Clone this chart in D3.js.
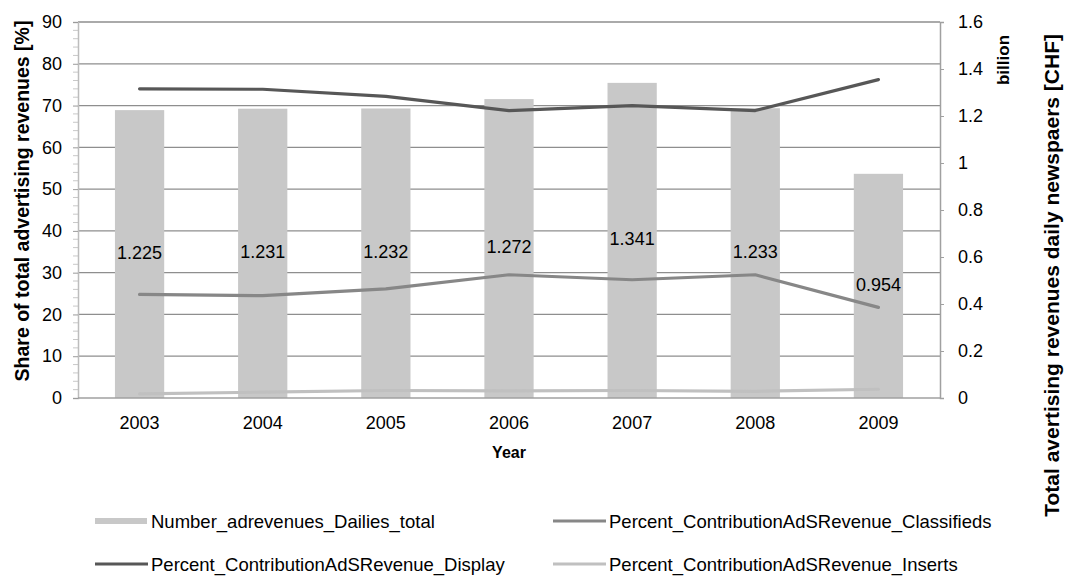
<!DOCTYPE html>
<html>
<head>
<meta charset="utf-8">
<script src="https://cdn.jsdelivr.net/npm/d3@7"></script>
<style>
  body { margin: 0; background: #fff; }
  svg text { font-family: "Liberation Sans", Arial, sans-serif; fill: #000; }
</style>
</head>
<body>
<div id="chart"></div>
<script>
// data
var years = ['2003', '2004', '2005', '2006', '2007', '2008', '2009'];
var revenueTotal = [1.225, 1.231, 1.232, 1.272, 1.341, 1.233, 0.954];
var shareDisplay = [74.0, 73.9, 72.2, 68.8, 70.0, 68.8, 76.2];
var shareClassifieds = [24.8, 24.5, 26.1, 29.5, 28.3, 29.5, 21.7];
var shareInserts = [1.0, 1.4, 1.8, 1.7, 1.8, 1.6, 2.1];
var leftTicks = [0, 10, 20, 30, 40, 50, 60, 70, 80, 90];
var rightTicks = [0, 0.2, 0.4, 0.6, 0.8, 1, 1.2, 1.4, 1.6];

(function () {
  var W = 1065, H = 577;
  var pLeft = 78, pRight = 940, pTop = 22, pBottom = 398;

  var svg = d3.select('#chart').append('svg').attr('width', W).attr('height', H);

  var x = d3.scaleBand().domain(years).range([pLeft, pRight]);
  var yL = d3.scaleLinear().domain([0, 90]).range([pBottom, pTop]);
  var yR = d3.scaleLinear().domain([0, 1.6]).range([pBottom, pTop]);
  var barW = x.bandwidth() * 0.4;

  // gridlines
  svg.append('g')
    .selectAll('line')
    .data(leftTicks.filter(function (d) { return d > 0; }))
    .join('line')
    .attr('x1', pLeft).attr('x2', pRight)
    .attr('y1', function (d) { return yL(d); })
    .attr('y2', function (d) { return yL(d); })
    .attr('stroke', '#8e8e8e').attr('stroke-width', 1.3);

  // minor ticks on left axis
  var minor = d3.range(0, 91, 2).filter(function (d) { return d % 10 != 0; });
  svg.append('g')
    .selectAll('line')
    .data(minor)
    .join('line')
    .attr('x1', pLeft - 5).attr('x2', pLeft)
    .attr('y1', function (d) { return yL(d); })
    .attr('y2', function (d) { return yL(d); })
    .attr('stroke', '#c8c8c8').attr('stroke-width', 1);

  // left axis
  var axL = svg.append('g').attr('transform', 'translate(' + pLeft + ',0)')
    .call(d3.axisLeft(yL).tickValues(leftTicks).tickSize(5).tickPadding(11));
  axL.select('.domain').attr('stroke', '#bdbdbd').attr('stroke-width', 1.5);
  axL.selectAll('.tick line').attr('stroke', '#9a9a9a');
  axL.selectAll('text').style('font-size', '18px').attr('fill', '#000');

  // right axis
  var axR = svg.append('g').attr('transform', 'translate(' + pRight + ',0)')
    .call(d3.axisRight(yR).tickValues(rightTicks).tickFormat(d3.format('')).tickSize(4).tickPadding(14));
  axR.select('.domain').attr('stroke', '#a0a0a0').attr('stroke-width', 1.5);
  axR.selectAll('.tick line').attr('stroke', '#a0a0a0');
  axR.selectAll('text').style('font-size', '18px').attr('fill', '#000');

  // bars
  svg.append('g')
    .selectAll('rect')
    .data(revenueTotal)
    .join('rect')
    .attr('x', function (d, i) { return x(years[i]) + (x.bandwidth() - barW) / 2; })
    .attr('width', barW)
    .attr('y', function (d) { return yR(d); })
    .attr('height', function (d) { return pBottom - yR(d); })
    .attr('fill', '#c8c8c8');

  // bottom axis line
  svg.append('line')
    .attr('x1', pLeft).attr('x2', pRight)
    .attr('y1', pBottom).attr('y2', pBottom)
    .attr('stroke', '#a0a0a0').attr('stroke-width', 1.5);

  // lines
  var line = d3.line()
    .x(function (d, i) { return x(years[i]) + x.bandwidth() / 2; })
    .y(function (d) { return yL(d); });

  var series = [
    { vals: shareInserts, color: '#c0c0c0' },
    { vals: shareClassifieds, color: '#878787' },
    { vals: shareDisplay, color: '#575757' }
  ];
  series.forEach(function (s) {
    svg.append('path')
      .datum(s.vals)
      .attr('d', line)
      .attr('fill', 'none')
      .attr('stroke', s.color)
      .attr('stroke-width', 3.2)
      .attr('stroke-linecap', 'round')
      .attr('stroke-linejoin', 'round');
  });

  // bar labels (middle of the bar)
  svg.append('g')
    .selectAll('text')
    .data(revenueTotal)
    .join('text')
    .attr('x', function (d, i) { return x(years[i]) + x.bandwidth() / 2; })
    .attr('y', function (d) { return yR(d / 2); })
    .attr('text-anchor', 'middle')
    .attr('dominant-baseline', 'middle')
    .style('font-size', '18px')
    .text(function (d) { return d3.format('.3f')(d); });

  // year labels
  svg.append('g')
    .selectAll('text')
    .data(years)
    .join('text')
    .attr('x', function (d) { return x(d) + x.bandwidth() / 2; })
    .attr('y', 429)
    .attr('text-anchor', 'middle')
    .style('font-size', '18px')
    .text(function (d) { return d; });

  // axis titles
  svg.append('text')
    .attr('x', (pLeft + pRight) / 2).attr('y', 458)
    .attr('text-anchor', 'middle')
    .style('font-size', '16px').style('font-weight', 'bold')
    .text('Year');

  svg.append('text')
    .attr('transform', 'translate(29,201) rotate(-90)')
    .attr('text-anchor', 'middle')
    .style('font-size', '19.5px').style('font-weight', 'bold')
    .text('Share of total advertising revenues [%]');

  svg.append('text')
    .attr('transform', 'translate(1009,60) rotate(-90)')
    .attr('text-anchor', 'middle')
    .style('font-size', '17px').style('font-weight', 'bold')
    .text('billion');

  svg.append('text')
    .attr('transform', 'translate(1059,34) rotate(-90)')
    .attr('text-anchor', 'end')
    .style('font-size', '21px').style('font-weight', 'bold')
    .text('Total avertising revenues daily newspaers [CHF]');

  // legend
  var legend = [
    { name: 'Number_adrevenues_Dailies_total', type: 'bar', color: '#c8c8c8', lx: 95, ly: 521 },
    { name: 'Percent_ContributionAdSRevenue_Classifieds', type: 'line', color: '#878787', lx: 553, ly: 521 },
    { name: 'Percent_ContributionAdSRevenue_Display', type: 'line', color: '#575757', lx: 95, ly: 564 },
    { name: 'Percent_ContributionAdSRevenue_Inserts', type: 'line', color: '#c0c0c0', lx: 553, ly: 564 }
  ];
  var lg = svg.append('g').selectAll('g').data(legend).join('g')
    .attr('transform', function (d) { return 'translate(' + d.lx + ',' + d.ly + ')'; });
  lg.each(function (d) {
    var g = d3.select(this);
    if (d.type == 'bar') {
      g.append('rect').attr('x', 0).attr('y', -3).attr('width', 52).attr('height', 6).attr('fill', d.color);
    } else {
      g.append('line').attr('x1', 0).attr('x2', 53).attr('y1', 0).attr('y2', 0)
        .attr('stroke', d.color).attr('stroke-width', 3.2);
    }
    g.append('text').attr('x', 56).attr('y', 2)
      .attr('dominant-baseline', 'middle')
      .style('font-size', '18.5px')
      .text(d.name);
  });
})();
</script>
</body>
</html>
